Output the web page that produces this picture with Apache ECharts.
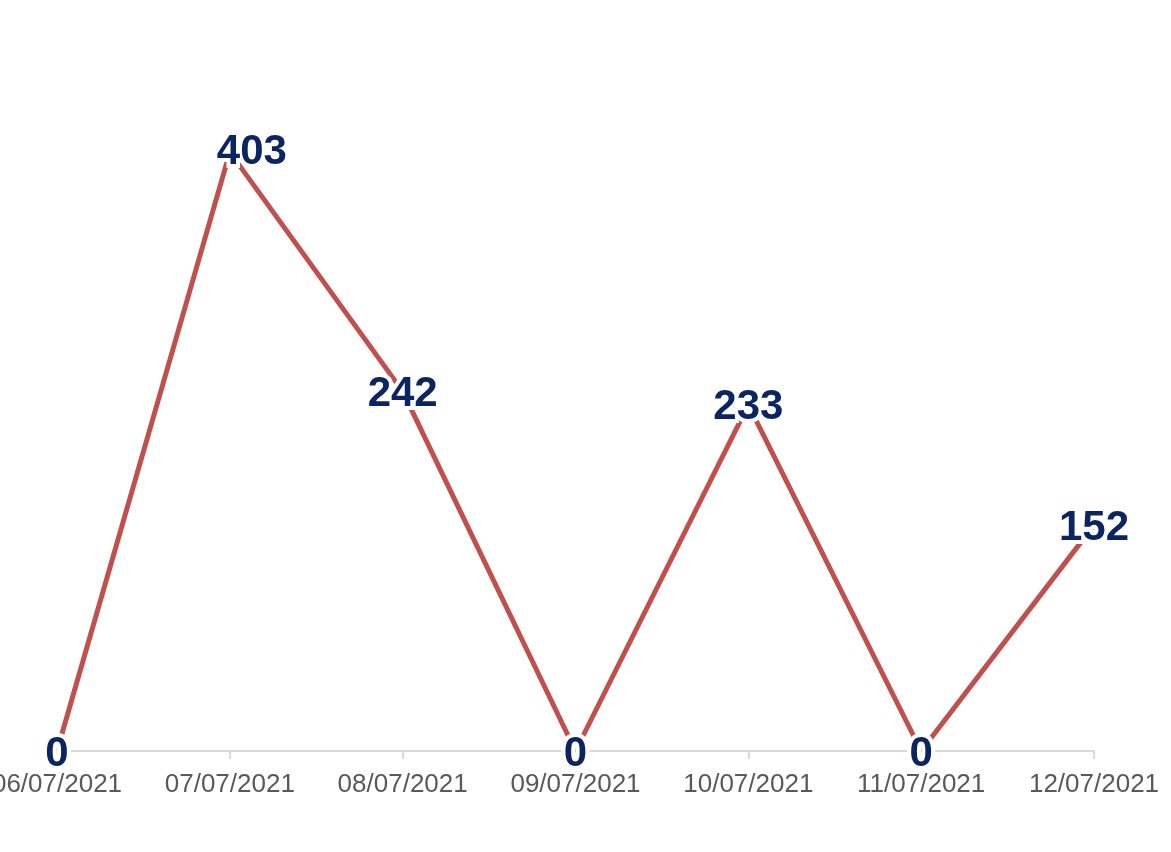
<!DOCTYPE html>
<html><head><meta charset="utf-8">
<script src="https://cdn.jsdelivr.net/npm/echarts@6/dist/echarts.min.js"></script>
<style>html,body{margin:0;padding:0;background:#fff}#c{width:1171px;height:852px}</style>
</head><body><div id="c"></div>
<script>
const categories = ['06/07/2021','07/07/2021','08/07/2021','09/07/2021','10/07/2021','11/07/2021','12/07/2021'];
const values = [0, 403, 242, 0, 233, 0, 152];

const chart = echarts.init(document.getElementById('c'));
chart.setOption({
  animation: false,
  grid: { left: 57, right: 77, top: 8, bottom: 101, outerBoundsMode: 'none', containLabel: false },
  xAxis: {
    type: 'category', data: categories, boundaryGap: false,
    axisLine: { lineStyle: { color: '#d9d9d9', width: 2 } },
    axisTick: { show: true, length: 8, lineStyle: { color: '#d9d9d9', width: 2 } },
    axisLabel: { color: '#595959', fontSize: 26, fontFamily: 'Liberation Sans, Arial', margin: 21, showMinLabel: true, showMaxLabel: true, interval: 0 }
  },
  yAxis: { type: 'value', min: 0, max: 500, show: false, splitLine: { show: false } },
  series: [{
    type: 'line', data: values, symbol: 'circle', symbolSize: 2, showSymbol: true,
    itemStyle: { color: 'rgba(0,0,0,0)' },
    lineStyle: { color: '#c0504d', width: 5 },
    label: {
      show: true, position: 'inside', color: '#0b2562', fontSize: 42, fontWeight: 'bold',
      fontFamily: 'Liberation Sans, Arial', textBorderColor: '#fff', textBorderWidth: 8
    },
    labelLayout: function (p) { return p.dataIndex === 1 ? { dx: 22, dy: 0, hideOverlap: false } : { dy: 3, hideOverlap: false }; },
    z: 3
  }]
});
</script></body></html>
